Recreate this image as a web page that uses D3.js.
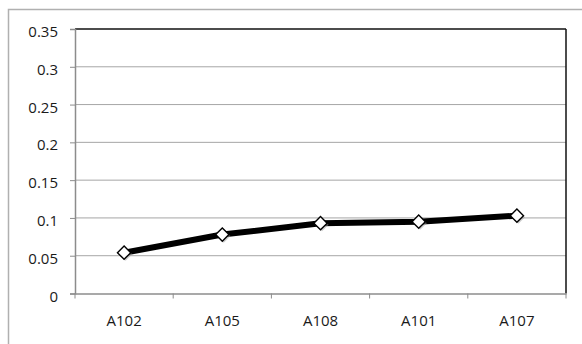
<!DOCTYPE html>
<html><head><meta charset="utf-8">
<script src="https://cdn.jsdelivr.net/npm/d3@7"></script>
<style>body{margin:0;background:#fff}svg{display:block}</style>
</head><body><svg id="c" width="582" height="344"></svg>
<script>
const categories = ["A102","A105","A108","A101","A107"];
const values = [0.054,0.078,0.093,0.095,0.103];
const yTicks = [0,0.05,0.1,0.15,0.2,0.25,0.3,0.35];
const yTickLabels = ["0","0.05","0.1","0.15","0.2","0.25","0.3","0.35"];

const FONT = '"Open Sans","Liberation Sans",sans-serif';
const svg = d3.select("#c");
const L=75,R=566,T=29,B=293.5;
svg.append("rect").attr("x",8.5).attr("y",9.5).attr("width",600).attr("height",400)
  .attr("fill","none").attr("stroke","#b0b0b0").attr("stroke-width",1.5);

const x = d3.scaleBand().domain(categories).range([L,R]);
const y = d3.scaleLinear().domain([0,0.35]).range([B,T]);

// gridlines
svg.append("g").selectAll("line").data(yTicks.slice(1,-1)).join("line")
  .attr("x1",L).attr("x2",R).attr("y1",d=>y(d)).attr("y2",d=>y(d))
  .attr("stroke","#a6a6a6").attr("stroke-width",1);

// frame top/right black
svg.append("line").attr("x1",L).attr("x2",R).attr("y1",T).attr("y2",T).attr("stroke","#111").attr("stroke-width",1.5);
svg.append("line").attr("x1",R).attr("x2",R).attr("y1",T).attr("y2",B).attr("stroke","#111").attr("stroke-width",1.5);

// y axis
const ya = svg.append("g").attr("transform",`translate(${L},0)`)
  .call(d3.axisLeft(y).tickValues(yTicks).tickFormat((d,i)=>yTickLabels[i]).tickSize(5).tickPadding(12));
ya.select(".domain").attr("stroke","#8c8c8c").attr("stroke-width",1.5);
ya.selectAll(".tick line").attr("stroke","#8c8c8c");
ya.selectAll("text").style("font-size","15px").style("font-family",FONT).attr("fill","#1a1a1a").attr("dy","0.5em");

// x axis
const xa = svg.append("g").attr("transform",`translate(0,${B})`)
  .call(d3.axisBottom(x).tickSize(0).tickPadding(22));
xa.select(".domain").attr("stroke","#8c8c8c").attr("stroke-width",1.5);
xa.selectAll("text").style("font-size","15px").style("font-family",FONT).attr("fill","#1a1a1a");
const bounds = categories.map(c=>x(c)).concat([R]);
xa.selectAll(".bt").data(bounds).join("line").attr("class","bt")
  .attr("x1",d=>d).attr("x2",d=>d).attr("y1",0).attr("y2",5).attr("stroke","#8c8c8c").attr("stroke-width",1);

// line
const data = categories.map((c,i)=>({c,v:values[i]}));
const line = d3.line().x(d=>x(d.c)+x.bandwidth()/2).y(d=>y(d.v));
svg.append("path").datum(data).attr("d",line).attr("fill","none").attr("stroke","#000").attr("stroke-width",6).attr("stroke-linejoin","round");

// markers
const sym = d3.symbol().type(d3.symbolSquare).size(88);
svg.append("g").selectAll("path.s").data(data).join("path").attr("class","s")
  .attr("transform",d=>`translate(${x(d.c)+x.bandwidth()/2+1.5},${y(d.v)+1.5}) rotate(45)`)
  .attr("d",sym).attr("fill","#999").attr("opacity",0.5);
svg.append("g").selectAll("path.m").data(data).join("path").attr("class","m")
  .attr("transform",d=>`translate(${x(d.c)+x.bandwidth()/2},${y(d.v)}) rotate(45)`)
  .attr("d",sym).attr("fill","#fff").attr("stroke","#000").attr("stroke-width",1.4);
</script></body></html>
